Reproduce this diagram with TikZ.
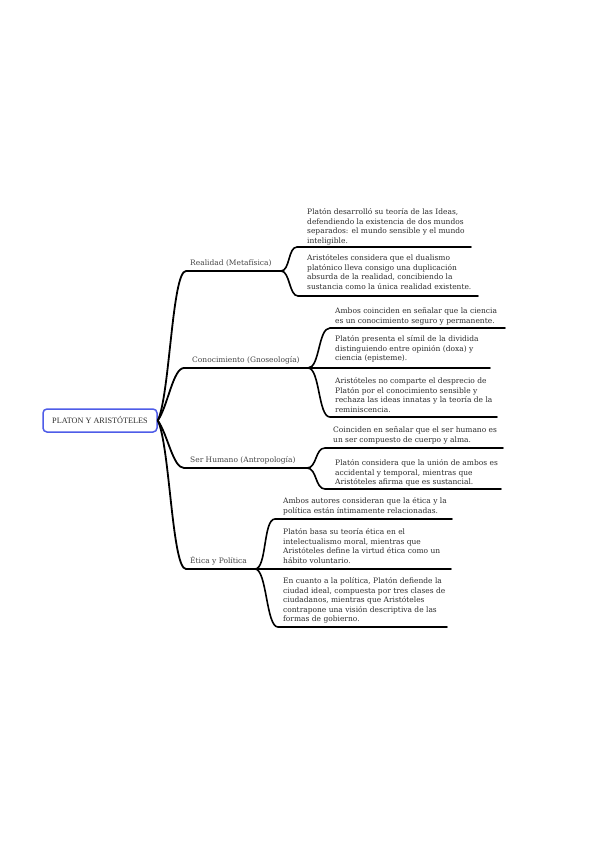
\documentclass[tikz,border=0pt]{standalone}
\usepackage{fontspec}
\setmainfont{DejaVu Serif}
\newfontfamily\rootfamily{Liberation Serif}
\definecolor{rootblue}{RGB}{78,92,232}
\definecolor{txt}{RGB}{45,45,45}
\definecolor{lbl}{RGB}{70,70,70}
\newcommand{\leaffont}{\fontsize{7.5}{9.6}\selectfont}
\newcommand{\lblfont}{\fontsize{7.5}{9.6}\selectfont}
\newcommand{\fs}{\rule{0pt}{6.8pt}}
\tikzset{
  trunk/.style={line width=1.8pt, black, line cap=round},
  under/.style={line width=1.6pt, black, line cap=round},
  leaf/.style={anchor=north west, inner sep=0pt, align=left, font=\leaffont, text=txt},
  blabel/.style={anchor=base west, inner sep=0pt, font=\lblfont, text=lbl},
  rootbox/.style={draw=rootblue, line width=1.5pt, rounded corners=4pt, fill=white,
    minimum width=114pt, minimum height=23pt, inner sep=0pt,
    font=\rootfamily\fontsize{8.2}{9}\selectfont, text=txt}
}
\begin{document}
\begin{tikzpicture}[x=1pt, y=-1pt]
\fill[white] (0,0) rectangle (599,848);
\useasboundingbox (0,0) rectangle (599,848);

% root
\node[rootbox] (root) at (100,420.5) {PLATON Y ARISTÓTELES};

% branch coordinates
\coordinate (rb) at (186,271); \coordinate (rs) at (281,271);
\coordinate (kb) at (184,368); \coordinate (ks) at (308,368);
\coordinate (hb) at (184,468); \coordinate (hs) at (307,468);
\coordinate (eb) at (186,569); \coordinate (es) at (255,569);

\draw[trunk] (root.east) .. controls +(12,-24) and +(-14,0) .. (rb) -- (rs);
\draw[trunk] (root.east) .. controls +(10,-14) and +(-11,0) .. (kb) -- (ks);
\draw[trunk] (root.east) .. controls +(10,14) and +(-11,0) .. (hb) -- (hs);
\draw[trunk] (root.east) .. controls +(12,24) and +(-14,0) .. (eb) -- (es);

% branch labels
\node[blabel] (rl) at (190,265) {Realidad (Metafísica)};
\node[blabel] (kl) at (192,362) {Conocimiento (Gnoseología)};
\node[blabel] (hl) at (190,462) {Ser Humano (Antropología)};
\node[blabel] (el) at (190,563) {Ética y Política};

% Realidad children
\coordinate (r1a) at (297,247); \coordinate (r1b) at (471,247);
\coordinate (r2a) at (298,296); \coordinate (r2b) at (478,296);
\draw[under] (rs) .. controls +(9,0) and +(-9,0) .. (r1a) -- (r1b);
\draw[under] (rs) .. controls +(9,0) and +(-9,0) .. (r2a) -- (r2b);
\node[leaf] (r1) at (307,207.4) {\fs Platón desarrolló su teoría de las Ideas,\\ defendiendo la existencia de dos mundos\\ separados: el mundo sensible y el mundo\\ inteligible.};
\node[leaf] (r2) at (307,253.4) {\fs Aristóteles considera que el dualismo\\ platónico lleva consigo una duplicación\\ absurda de la realidad, concibiendo la\\ sustancia como la única realidad existente.};

% Conocimiento children
\coordinate (k1a) at (330,328); \coordinate (k1b) at (505,328);
\coordinate (k2b) at (490,368);
\coordinate (k3a) at (330,417); \coordinate (k3b) at (497,417);
\draw[under] (ks) .. controls +(12,0) and +(-12,0) .. (k1a) -- (k1b);
\draw[under] (ks) -- (k2b);
\draw[under] (ks) .. controls +(12,0) and +(-12,0) .. (k3a) -- (k3b);
\node[leaf] (k1) at (335,306.4) {\fs Ambos coinciden en señalar que la ciencia\\ es un conocimiento seguro y permanente.};
\node[leaf] (k2) at (335,334.4) {\fs Platón presenta el símil de la dividida\\ distinguiendo entre opinión (doxa) y\\ ciencia (episteme).};
\node[leaf] (k3) at (335,376.4) {\fs Aristóteles no comparte el desprecio de\\ Platón por el conocimiento sensible y\\ rechaza las ideas innatas y la teoría de la\\ reminiscencia.};

% Ser Humano children
\coordinate (h1a) at (325,448); \coordinate (h1b) at (503,448);
\coordinate (h2a) at (325,489); \coordinate (h2b) at (501,489);
\draw[under] (hs) .. controls +(10,0) and +(-10,0) .. (h1a) -- (h1b);
\draw[under] (hs) .. controls +(10,0) and +(-10,0) .. (h2a) -- (h2b);
\node[leaf] (h1) at (333,425.4) {\fs Coinciden en señalar que el ser humano es\\ un ser compuesto de cuerpo y alma.};
\node[leaf] (h2) at (335,458.4) {\fs Platón considera que la unión de ambos es\\ accidental y temporal, mientras que\\ Aristóteles afirma que es sustancial.};

% Etica children
\coordinate (e1a) at (275,519); \coordinate (e1b) at (452,519);
\coordinate (e2b) at (451,569);
\coordinate (e3a) at (278,627); \coordinate (e3b) at (447,627);
\draw[under] (es) .. controls +(12,0) and +(-12,0) .. (e1a) -- (e1b);
\draw[under] (es) -- (e2b);
\draw[under] (es) .. controls +(12,0) and +(-12,0) .. (e3a) -- (e3b);
\node[leaf] (e1) at (283,496.4) {\fs Ambos autores consideran que la ética y la\\ política están íntimamente relacionadas.};
\node[leaf] (e2) at (283,527.4) {\fs Platón basa su teoría ética en el\\ intelectualismo moral, mientras que\\ Aristóteles define la virtud ética como un\\ hábito voluntario.};
\node[leaf] (e3) at (283,576.4) {\fs En cuanto a la política, Platón defiende la\\ ciudad ideal, compuesta por tres clases de\\ ciudadanos, mientras que Aristóteles\\ contrapone una visión descriptiva de las\\ formas de gobierno.};
\end{tikzpicture}
\end{document}
